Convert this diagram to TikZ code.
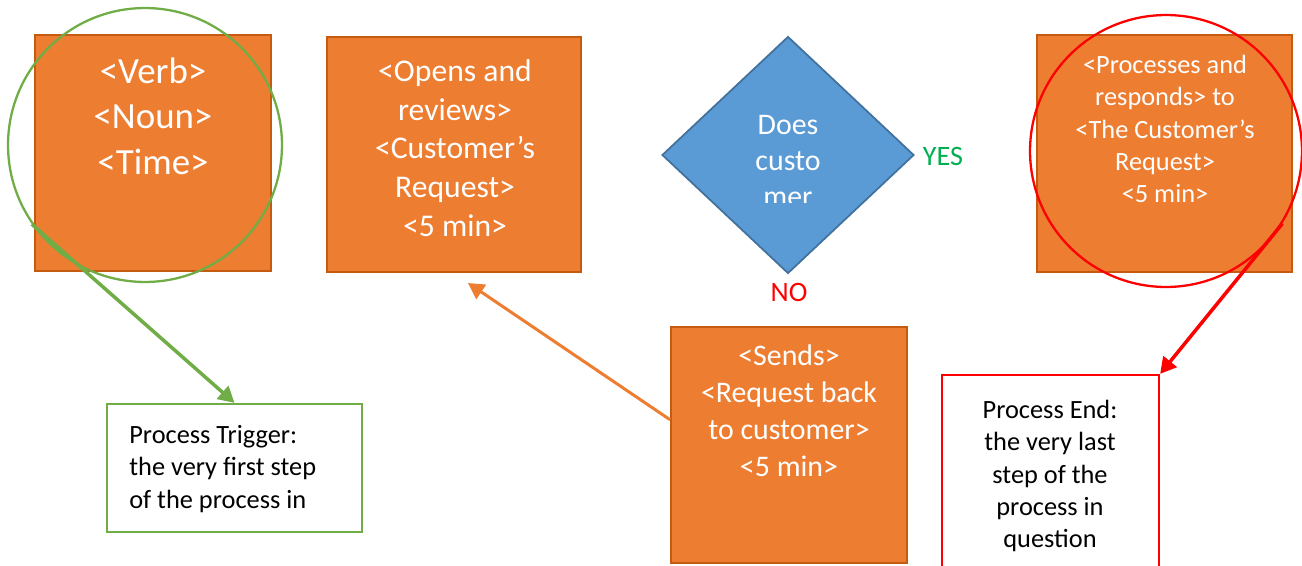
\documentclass[tikz,border=0pt]{standalone}
\usepackage{fontspec}
\setmainfont{Carlito}
\usetikzlibrary{arrows.meta,positioning,shapes.geometric}
\definecolor{fcOrange} {RGB}{237,125, 49}
\definecolor{fcOrangeD}{RGB}{197, 90, 17}
\definecolor{fcBlue}   {RGB}{ 91,155,213}
\definecolor{fcBlueD}  {RGB}{ 65,113,156}
\definecolor{fcGreen}  {RGB}{112,173, 71}
\definecolor{fcYes}    {RGB}{  0,176, 80}
\definecolor{fcRed}    {RGB}{255,  0,  0}

\begin{document}
\begin{tikzpicture}[
  x=0.02cm,y=-0.02cm,
  >={Triangle[length=3.2mm,width=3.4mm]},
  stepbox/.style={draw=fcOrangeD,fill=fcOrange,line width=1.1pt,inner sep=0pt},
  boxtxt/.style={text=white,align=center,inner sep=0pt},
  decide/.style={diamond,draw=fcBlueD,fill=fcBlue,line width=1pt,inner sep=0pt,
                 minimum width=5.04cm,minimum height=4.74cm},
  ring/.style={circle,draw,line width=1.3pt,inner sep=0pt},
  note/.style={draw,fill=white,line width=1.3pt,inner sep=0pt},
  notetxt/.style={text=black,inner sep=0pt,font=\fontsize{15}{18.3}\selectfont}
]
\useasboundingbox (0,0) rectangle (1302,565);
\clip (0,0) rectangle (1302,565);

\node[stepbox,minimum width=4.72cm,minimum height=4.72cm] (verb) at (153,153) {};
\node[boxtxt,font=\fontsize{21}{26}\selectfont] (verbtxt) at (153,116)
  {<Verb>\\<Noun>\\<Time>};
\node[ring,draw=fcGreen,minimum size=5.48cm] (trigc) at (145,145) {};

\node[stepbox,minimum width=5.08cm,minimum height=4.70cm] (open) at (454,154.5) {};
\node[boxtxt,font=\fontsize{18}{22.1}\selectfont] (opentxt) at (455,148)
  {<Opens and\\reviews>\\<Customer’s\\Request>\\<5 min>};

\node[decide] (ask) at (788,155) {};
\begin{scope}
  \clip (720,100) rectangle (856,202);
  \node[boxtxt,font=\fontsize{17}{20.6}\selectfont] (asktxt) at (788,161)
    {Does\\custo\\mer};
\end{scope}
\node[text=fcYes,font=\fontsize{16}{19}\selectfont,inner sep=0pt] (yes) at (943,156) {YES};
\node[text=fcRed,font=\fontsize{16}{19}\selectfont,inner sep=0pt] (no) at (789,292) {NO};

\node[stepbox,minimum width=5.10cm,minimum height=4.74cm] (resp) at (1164.5,153.5) {};
\node[boxtxt,font=\fontsize{15}{18.3}\selectfont] (resptxt) at (1165,129)
  {<Processes and\\responds> to\\<The Customer’s\\Request>\\<5 min>};
\node[ring,draw=fcRed,minimum size=5.44cm] (endc) at (1166,151) {};

\node[stepbox,minimum width=4.72cm,minimum height=4.72cm] (sends) at (789,445) {};
\node[boxtxt,font=\fontsize{17}{21}\selectfont] (sendstxt) at (789,411)
  {<Sends>\\<Request back\\to customer>\\<5 min>};

\node[note,draw=fcGreen,minimum width=5.10cm,minimum height=2.56cm] (trig) at (234.5,468) {};
\node[notetxt,align=left,anchor=west] (trigtxt) at (129,469)
  {Process Trigger:\\the very first step\\of the process in};

\node[note,draw=fcRed,minimum width=4.34cm,minimum height=4.5cm] (fin) at (1050.5,487.5) {};
\node[notetxt,align=center] (fintxt) at (1050,476)
  {Process End:\\the very last\\step of the\\process in\\question};

\coordinate (optip) at (468,283);
\draw[->,line width=2pt,fcGreen] (trigc.215) -- (trig.north);
\draw[->,line width=1.7pt,fcOrange] (sends.168.5) -- (optip);
\draw[->,line width=2pt,fcRed] (endc.-32.5) -- (fin.north east);
\end{tikzpicture}
\end{document}
